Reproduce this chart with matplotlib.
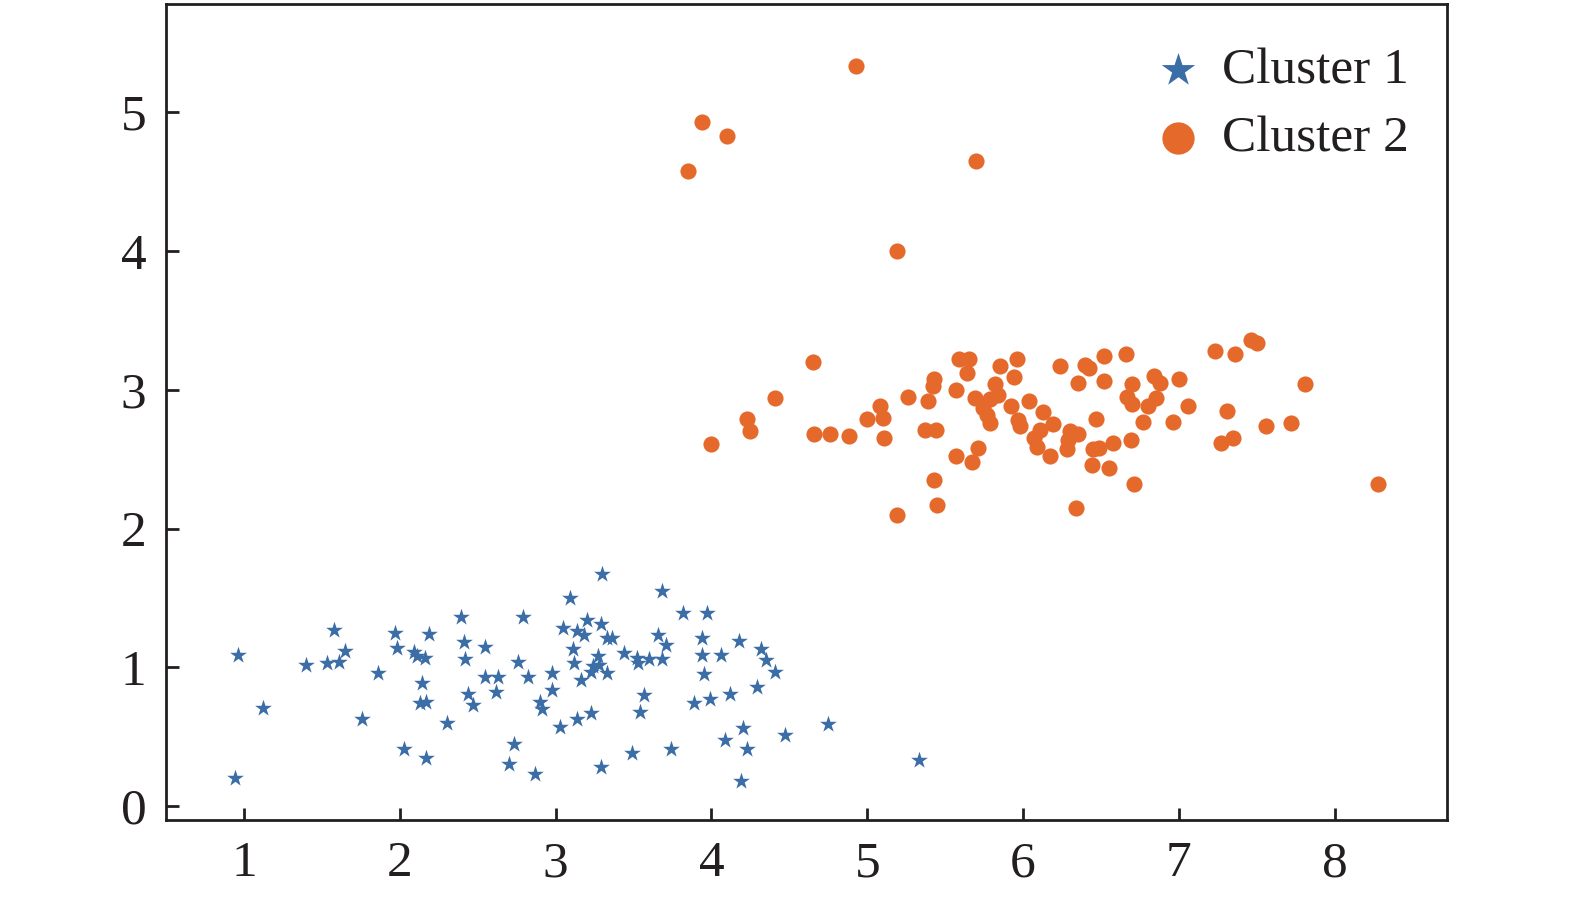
import matplotlib
matplotlib.use("Agg")
import matplotlib.pyplot as plt

# Cluster 1 (blue stars)
c1_x = [0.96, 0.94, 1.12, 1.40, 1.53, 1.58, 1.61, 1.65, 1.86, 1.76,
        1.97, 1.98, 2.03, 2.19, 2.09, 2.11, 2.16, 2.14, 2.13, 2.17,
        2.17, 2.30, 2.39, 2.41, 2.42, 2.55, 2.44, 2.47, 2.55, 2.63,
        2.62, 2.73, 2.70, 2.79, 2.76, 2.82, 2.87, 2.90, 2.91, 2.98,
        2.98, 3.03, 3.09, 3.05, 3.14, 3.11, 3.12, 3.16, 3.14, 3.30,
        3.68, 3.20, 3.29, 3.33, 3.36, 3.82, 3.97, 3.66, 3.71, 3.94,
        4.18, 3.94, 4.06, 4.32, 4.35, 4.41, 3.44, 3.52, 3.53, 3.60,
        3.68, 3.27, 3.24, 3.33, 3.23, 3.95, 3.57, 3.54, 3.89, 3.99,
        4.12, 4.29, 3.23, 3.29, 3.49, 3.74, 4.09, 4.20, 4.23, 4.19,
        4.47, 4.75, 5.33, 3.18, 3.28]
c1_y = [1.09, 0.20, 0.71, 1.02, 1.03, 1.27, 1.04, 1.12, 0.96, 0.63,
        1.25, 1.14, 0.41, 1.24, 1.11, 1.08, 1.07, 0.89, 0.74, 0.75,
        0.35, 0.60, 1.36, 1.18, 1.06, 1.15, 0.81, 0.73, 0.93, 0.93,
        0.82, 0.45, 0.30, 1.36, 1.04, 0.93, 0.23, 0.75, 0.70, 0.96,
        0.84, 0.57, 1.50, 1.28, 1.26, 1.13, 1.03, 0.91, 0.63, 1.67,
        1.55, 1.34, 1.31, 1.21, 1.21, 1.39, 1.39, 1.23, 1.16, 1.21,
        1.19, 1.09, 1.09, 1.13, 1.05, 0.97, 1.10, 1.07, 1.03, 1.06,
        1.06, 1.08, 1.01, 0.96, 0.97, 0.95, 0.80, 0.68, 0.74, 0.77,
        0.81, 0.86, 0.67, 0.28, 0.38, 0.41, 0.48, 0.56, 0.41, 0.18,
        0.51, 0.59, 0.33, 1.23, 1.02]

# Cluster 2 (orange circles)
c2_x = [4.93, 3.94, 4.10, 3.85, 5.70, 5.19, 4.65, 4.41, 4.23, 4.25,
        4.00, 4.66, 4.76, 4.88, 5.00, 5.08, 5.10, 5.11, 5.26, 5.43,
        5.42, 5.39, 5.37, 5.44, 5.43, 5.45, 5.19, 5.59, 5.65, 5.64,
        5.57, 5.57, 5.67, 5.71, 5.69, 5.82, 5.84, 5.79, 5.74, 5.77,
        5.79, 5.85, 5.96, 5.94, 5.92, 6.04, 5.97, 5.98, 6.07, 6.09,
        6.13, 6.19, 6.17, 6.11, 6.30, 6.35, 6.28, 6.29, 6.24, 6.40,
        6.42, 6.52, 6.66, 6.35, 6.52, 6.70, 6.67, 6.70, 6.84, 6.88,
        6.85, 6.80, 7.00, 7.06, 6.77, 6.96, 6.47, 6.58, 6.69, 6.45,
        6.49, 6.44, 6.55, 6.71, 6.34, 7.23, 7.36, 7.46, 7.50, 7.81,
        7.31, 7.27, 7.35, 7.56, 7.72, 8.28]
c2_y = [5.33, 4.93, 4.83, 4.58, 4.65, 4.00, 3.20, 2.94, 2.79, 2.70,
        2.61, 2.68, 2.68, 2.67, 2.79, 2.88, 2.80, 2.65, 2.95, 3.08,
        3.03, 2.92, 2.71, 2.71, 2.35, 2.17, 2.10, 3.22, 3.22, 3.12,
        3.00, 2.52, 2.48, 2.58, 2.94, 3.04, 2.96, 2.93, 2.87, 2.82,
        2.76, 3.17, 3.22, 3.09, 2.88, 2.92, 2.78, 2.74, 2.65, 2.59,
        2.84, 2.75, 2.52, 2.71, 2.70, 2.68, 2.57, 2.64, 3.17, 3.18,
        3.16, 3.24, 3.26, 3.05, 3.06, 3.04, 2.95, 2.90, 3.10, 3.05,
        2.94, 2.88, 3.08, 2.88, 2.77, 2.77, 2.79, 2.62, 2.64, 2.57,
        2.58, 2.46, 2.44, 2.32, 2.15, 3.28, 3.26, 3.36, 3.34, 3.04,
        2.85, 2.62, 2.65, 2.74, 2.76, 2.32]

labels = ["Cluster 1", "Cluster 2"]
x_ticks = [1, 2, 3, 4, 5, 6, 7, 8]
y_ticks = [0, 1, 2, 3, 4, 5]

blue = "#3B6DA6"
orange = "#E5692B"

plt.rcParams['font.family'] = ['Liberation Serif', 'DejaVu Serif']

fig = plt.figure(figsize=(15.75, 9.02), dpi=100)
ax = fig.add_axes([0.1054, 0.0909, 0.8133, 0.9047])

ax.scatter(c1_x, c1_y, marker='*', s=160, color=blue, linewidths=0, label=labels[0], zorder=3)
ax.scatter(c2_x, c2_y, marker='o', s=135, color=orange, linewidths=0, label=labels[1], zorder=3)

ax.set_xlim(0.5, 8.72)
ax.set_ylim(-0.1, 5.78)
ax.set_xticks(x_ticks)
ax.set_yticks(y_ticks)

for sp in ax.spines.values():
    sp.set_linewidth(2.0)
    sp.set_color('#231f20')

ax.tick_params(axis='both', direction='in', length=9, width=2.0, color='#231f20',
               labelsize=37, labelcolor='#231f20', top=False, right=False)
ax.tick_params(axis='x', pad=15)
ax.tick_params(axis='y', pad=14)

leg = ax.legend(loc='upper right', frameon=False, fontsize=37, markerscale=2.0,
                handlelength=1.0, handletextpad=0.35, borderaxespad=0.25,
                labelspacing=0.42, bbox_to_anchor=(0.996, 0.988))
for t in leg.get_texts():
    t.set_color('#231f20')

fig.savefig("out.png", dpi=100)
